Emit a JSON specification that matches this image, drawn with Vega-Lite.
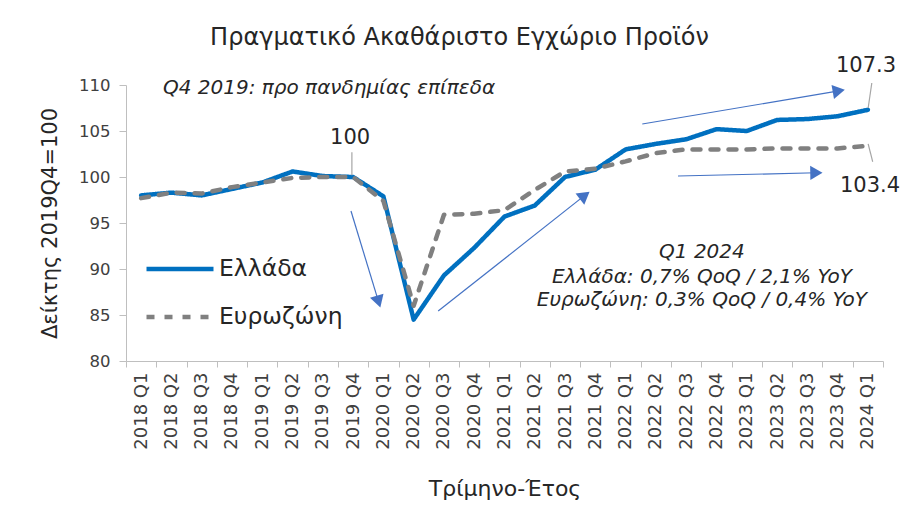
{
  "$schema": "https://vega.github.io/schema/vega-lite/v6.json",
  "width": 757,
  "height": 276,
  "autosize": {"type": "none"},
  "padding": {"left": 126, "top": 85, "right": 22, "bottom": 170},
  "background": "white",
  "config": {"view": {"stroke": null}, "font": "DejaVu Sans"},
  "title": {
    "text": "Πραγματικό Ακαθάριστο Εγχώριο Προϊόν",
    "fontSize": 24,
    "fontWeight": "normal",
    "color": "#262626",
    "frame": "group",
    "anchor": "middle",
    "dx": -45,
    "offset": 5
  },
  "datasets": {
    "gdp": [
      {"q": "2018 Q1", "s": "Ελλάδα", "v": 98.0},
      {"q": "2018 Q2", "s": "Ελλάδα", "v": 98.3},
      {"q": "2018 Q3", "s": "Ελλάδα", "v": 98.0},
      {"q": "2018 Q4", "s": "Ελλάδα", "v": 98.7},
      {"q": "2019 Q1", "s": "Ελλάδα", "v": 99.4},
      {"q": "2019 Q2", "s": "Ελλάδα", "v": 100.6},
      {"q": "2019 Q3", "s": "Ελλάδα", "v": 100.1},
      {"q": "2019 Q4", "s": "Ελλάδα", "v": 100.0},
      {"q": "2020 Q1", "s": "Ελλάδα", "v": 97.9},
      {"q": "2020 Q2", "s": "Ελλάδα", "v": 84.5},
      {"q": "2020 Q3", "s": "Ελλάδα", "v": 89.3},
      {"q": "2020 Q4", "s": "Ελλάδα", "v": 92.3},
      {"q": "2021 Q1", "s": "Ελλάδα", "v": 95.7},
      {"q": "2021 Q2", "s": "Ελλάδα", "v": 96.9},
      {"q": "2021 Q3", "s": "Ελλάδα", "v": 100.0},
      {"q": "2021 Q4", "s": "Ελλάδα", "v": 100.8},
      {"q": "2022 Q1", "s": "Ελλάδα", "v": 103.0},
      {"q": "2022 Q2", "s": "Ελλάδα", "v": 103.6},
      {"q": "2022 Q3", "s": "Ελλάδα", "v": 104.1},
      {"q": "2022 Q4", "s": "Ελλάδα", "v": 105.2},
      {"q": "2023 Q1", "s": "Ελλάδα", "v": 105.0},
      {"q": "2023 Q2", "s": "Ελλάδα", "v": 106.2},
      {"q": "2023 Q3", "s": "Ελλάδα", "v": 106.3},
      {"q": "2023 Q4", "s": "Ελλάδα", "v": 106.6},
      {"q": "2024 Q1", "s": "Ελλάδα", "v": 107.3},
      {"q": "2018 Q1", "s": "Ευρωζώνη", "v": 97.7},
      {"q": "2018 Q2", "s": "Ευρωζώνη", "v": 98.3},
      {"q": "2018 Q3", "s": "Ευρωζώνη", "v": 98.2},
      {"q": "2018 Q4", "s": "Ευρωζώνη", "v": 98.9},
      {"q": "2019 Q1", "s": "Ευρωζώνη", "v": 99.4},
      {"q": "2019 Q2", "s": "Ευρωζώνη", "v": 99.9},
      {"q": "2019 Q3", "s": "Ευρωζώνη", "v": 100.0},
      {"q": "2019 Q4", "s": "Ευρωζώνη", "v": 100.0},
      {"q": "2020 Q1", "s": "Ευρωζώνη", "v": 97.4},
      {"q": "2020 Q2", "s": "Ευρωζώνη", "v": 86.0},
      {"q": "2020 Q3", "s": "Ευρωζώνη", "v": 95.9},
      {"q": "2020 Q4", "s": "Ευρωζώνη", "v": 96.0},
      {"q": "2021 Q1", "s": "Ευρωζώνη", "v": 96.4},
      {"q": "2021 Q2", "s": "Ευρωζώνη", "v": 98.6},
      {"q": "2021 Q3", "s": "Ευρωζώνη", "v": 100.6},
      {"q": "2021 Q4", "s": "Ευρωζώνη", "v": 100.9},
      {"q": "2022 Q1", "s": "Ευρωζώνη", "v": 101.7},
      {"q": "2022 Q2", "s": "Ευρωζώνη", "v": 102.6},
      {"q": "2022 Q3", "s": "Ευρωζώνη", "v": 103.0},
      {"q": "2022 Q4", "s": "Ευρωζώνη", "v": 103.0},
      {"q": "2023 Q1", "s": "Ευρωζώνη", "v": 103.0},
      {"q": "2023 Q2", "s": "Ευρωζώνη", "v": 103.1},
      {"q": "2023 Q3", "s": "Ευρωζώνη", "v": 103.1},
      {"q": "2023 Q4", "s": "Ευρωζώνη", "v": 103.1},
      {"q": "2024 Q1", "s": "Ευρωζώνη", "v": 103.4}
    ],
    "labels": [
      {"xi": 7.40, "v": 104.24, "t": "100"},
      {"xi": 24.44, "v": 112.07, "t": "107.3"},
      {"xi": 24.57, "v": 99.02, "t": "103.4"}
    ],
    "noteLeft": [
      {"xi": 1.22, "v": 109.67, "t": "Q4 2019: προ πανδημίας επίπεδα"}
    ],
    "noteCenter": [
      {"xi": 19.02, "v": 91.85, "t": "Q1 2024"},
      {"xi": 19.02, "v": 89.1, "t": "Ελλάδα: 0,7% QoQ / 2,1% YoY"},
      {"xi": 19.02, "v": 86.6, "t": "Ευρωζώνη: 0,3% QoQ / 0,4% YoY"}
    ],
    "leaders": [
      {"xi": 7.46, "xi2": 7.46, "v": 102.7, "v2": 100.2},
      {"xi": 24.63, "xi2": 24.51, "v": 110.22, "v2": 107.5},
      {"xi": 24.51, "xi2": 24.66, "v": 103.59, "v2": 101.66}
    ],
    "arrows": [
      {"xi": 7.43, "xi2": 8.34, "v": 96.3, "v2": 86.45},
      {"xi": 10.31, "xi2": 15.15, "v": 85.43, "v2": 98.0},
      {"xi": 17.05, "xi2": 23.54, "v": 105.76, "v2": 109.36},
      {"xi": 18.23, "xi2": 22.80, "v": 100.11, "v2": 100.46}
    ],
    "heads": [
      {"xi": 8.34, "v": 86.45, "ang": 163},
      {"xi": 15.15, "v": 98.0, "ang": 52},
      {"xi": 23.54, "v": 109.36, "ang": 80},
      {"xi": 22.80, "v": 100.46, "ang": 89}
    ]
  },
  "encoding": {
    "y": {
      "field": "v",
      "type": "quantitative",
      "scale": {"domain": [80, 110], "nice": false, "zero": false},
      "axis": {
        "title": "Δείκτης 2019Q4=100",
        "values": [80, 85, 90, 95, 100, 105, 110],
        "grid": false,
        "tickSize": 7,
        "tickColor": "#BFBFBF",
        "domainColor": "#BFBFBF",
        "labelFontSize": 16.5,
        "labelColor": "#404040",
        "labelPadding": 9,
        "titleFontSize": 21,
        "titleFontWeight": "normal",
        "titleColor": "#262626",
        "titlePadding": 18
      }
    }
  },
  "layer": [
    {
      "data": {"name": "gdp"},
      "mark": {"type": "line", "strokeWidth": 4.5, "strokeJoin": "round", "strokeCap": "round"},
      "encoding": {
        "x": {
          "field": "q",
          "type": "ordinal",
          "sort": null,
          "bandPosition": 0.5,
          "scale": {"type": "band", "paddingInner": 0, "paddingOuter": 0},
          "axis": {
            "title": "Τρίμηνο-Έτος",
            "tickBand": "extent",
            "tickSize": 6,
            "tickColor": "#BFBFBF",
            "domainColor": "#BFBFBF",
            "labelAngle": 270,
            "labelFontSize": 18,
            "labelColor": "#404040",
            "labelPadding": 5,
            "titleFontSize": 22,
            "titleFontWeight": "normal",
            "titleColor": "#262626",
            "titlePadding": 29
          }
        },
        "color": {
          "field": "s",
          "type": "nominal",
          "sort": ["Ελλάδα", "Ευρωζώνη"],
          "scale": {"domain": ["Ελλάδα", "Ευρωζώνη"], "range": ["#0070C0", "#808080"]},
          "legend": {
            "orient": "none", "legendX": 18, "legendY": 148, "title": null,
            "symbolType": "stroke", "symbolSize": 4489, "symbolStrokeWidth": 4.5,
            "labelFontSize": 23.5, "labelOffset": 3, "rowPadding": -5, "labelColor": "#262626"
          }
        },
        "strokeDash": {
          "field": "s",
          "type": "nominal",
          "sort": ["Ελλάδα", "Ευρωζώνη"],
          "scale": {"domain": ["Ελλάδα", "Ευρωζώνη"], "range": [[1, 0], [8, 10]]},
          "legend": {
            "orient": "none", "legendX": 18, "legendY": 148, "title": null,
            "symbolType": "stroke", "symbolSize": 4489, "symbolStrokeWidth": 4.5,
            "labelFontSize": 23.5, "labelOffset": 3, "rowPadding": -5, "labelColor": "#262626"
          }
        }
      }
    },
    {
      "data": {"name": "leaders"},
      "mark": {"type": "rule", "color": "#A6A6A6", "strokeWidth": 1.2},
      "encoding": {
        "x": {"field": "xi", "type": "quantitative", "scale": {"domain": [0, 25], "nice": false, "zero": false}, "axis": null},
        "x2": {"field": "xi2"},
        "y2": {"field": "v2"}
      }
    },
    {
      "data": {"name": "arrows"},
      "mark": {"type": "rule", "color": "#4472C4", "strokeWidth": 1.2},
      "encoding": {
        "x": {"field": "xi", "type": "quantitative", "scale": {"domain": [0, 25], "nice": false, "zero": false}, "axis": null},
        "x2": {"field": "xi2"},
        "y2": {"field": "v2"}
      }
    },
    {
      "data": {"name": "heads"},
      "mark": {"type": "point", "shape": "triangle-up", "filled": true, "color": "#4472C4", "size": 200, "opacity": 1},
      "encoding": {
        "x": {"field": "xi", "type": "quantitative", "scale": {"domain": [0, 25], "nice": false, "zero": false}, "axis": null},
        "angle": {"field": "ang", "type": "quantitative", "scale": null}
      }
    },
    {
      "data": {"name": "labels"},
      "mark": {"type": "text", "fontSize": 21, "color": "#262626", "align": "center", "baseline": "middle"},
      "encoding": {
        "x": {"field": "xi", "type": "quantitative", "scale": {"domain": [0, 25], "nice": false, "zero": false}, "axis": null},
        "text": {"field": "t"}
      }
    },
    {
      "data": {"name": "noteLeft"},
      "mark": {"type": "text", "fontSize": 20, "fontStyle": "italic", "color": "#262626", "align": "left", "baseline": "middle"},
      "encoding": {
        "x": {"field": "xi", "type": "quantitative", "scale": {"domain": [0, 25], "nice": false, "zero": false}, "axis": null},
        "text": {"field": "t"}
      }
    },
    {
      "data": {"name": "noteCenter"},
      "mark": {"type": "text", "fontSize": 20, "fontStyle": "italic", "color": "#262626", "align": "center", "baseline": "middle"},
      "encoding": {
        "x": {"field": "xi", "type": "quantitative", "scale": {"domain": [0, 25], "nice": false, "zero": false}, "axis": null},
        "text": {"field": "t"}
      }
    }
  ],
  "resolve": {"scale": {"x": "independent"}}
}
